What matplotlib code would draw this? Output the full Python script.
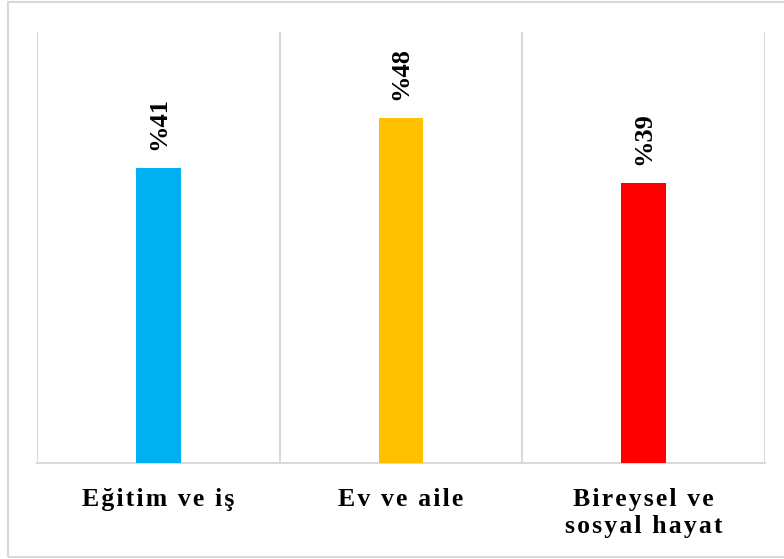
import matplotlib.pyplot as plt
from matplotlib.patches import Rectangle

# veri
kategoriler = ["Eğitim ve iş", "Ev ve aile", "Bireysel ve\nsosyal hayat"]
yuzdeler = [41, 48, 39]
renkler = ["#00B0F0", "#FFC000", "#FF0000"]

plt.rcParams['font.family'] = ['Liberation Serif', 'DejaVu Serif']


def aralikli(metin):
    # harfler arasina cok ince bosluk koy (genis harf araligi gorunumu)
    satirlar = metin.split("\n")
    return "\n".join("\u200a".join(s) for s in satirlar)


fig = plt.figure(figsize=(7.84, 5.59), dpi=100)
ax = fig.add_axes([37 / 784, 96 / 559, 728 / 784, 431 / 559])

x = list(range(len(kategoriler)))
ax.bar(x, yuzdeler, width=0.185, color=renkler, zorder=3)

for i, v in enumerate(yuzdeler):
    ax.annotate("%" + str(v), (i, v), xytext=(0, 13), textcoords="offset points",
                rotation=90, ha="center", va="bottom", fontsize=19, fontweight="bold")

ax.set_xlim(-0.5, 2.5)
ax.set_ylim(0, 60)
ax.set_yticks([])
ax.set_xticks(x)
ax.set_xticklabels([aralikli(k) for k in kategoriler], fontsize=18.5, fontweight="bold",
                   linespacing=1.25)
ax.tick_params(axis="x", length=0, pad=18)

for xv in [-0.5, 0.5, 1.5, 2.5]:
    ax.axvline(xv, color="#d9d9d9", linewidth=1.5, zorder=1)

for s in ["top", "left", "right"]:
    ax.spines[s].set_visible(False)
ax.spines["bottom"].set_color("#d9d9d9")
ax.spines["bottom"].set_linewidth(1.5)

# dis cerceve
fig.add_artist(Rectangle((8 / 784, 2 / 559), 1.0, 555 / 559, transform=fig.transFigure,
                         fill=False, edgecolor="#d9d9d9", linewidth=1.5))

plt.savefig("out.png", dpi=100)
